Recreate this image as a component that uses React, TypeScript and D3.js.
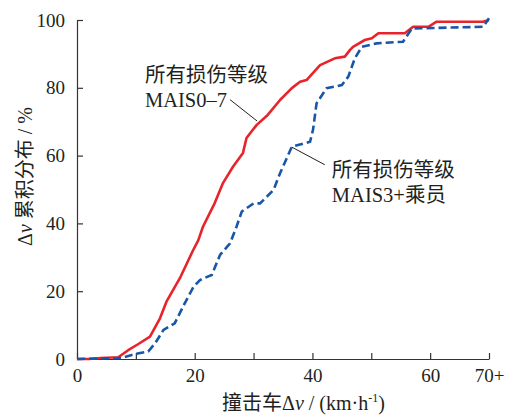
import React, { useEffect, useRef } from 'react';
import * as d3 from 'd3';

// red: 所有损伤等级 MAIS0-7
const allX = [0, 2, 4, 7, 8.7, 10.5, 12.4, 14.1, 15.2, 17.5, 19.7, 20.6, 21.4, 23.4, 24.8, 26.5, 28.2, 28.8, 30.5, 32.4, 34.5, 36.5, 37.9, 39, 41.3, 43.8, 45.5, 46.4, 46.9, 48.9, 50.1, 51.2, 55.7, 57.1, 59.7, 61.1, 69, 70];
const allY = [0, 0, 0.3, 0.5, 2.6, 4.5, 6.6, 12, 16.9, 23.9, 32, 35, 39, 46, 51.9, 56.7, 60.8, 65.2, 69, 72, 76.4, 79.9, 81.8, 82.3, 86.7, 88.7, 89.2, 91.2, 92.1, 94.1, 94.6, 96.1, 96.1, 98, 98, 99.5, 99.5, 100];

// blue dashed: MAIS3+ occupants
const severeX = [0, 7.6, 9.9, 12.1, 13.3, 14.7, 15.8, 16.6, 18.3, 19.8, 20.9, 22.9, 24.3, 26, 27.1, 28, 30, 31.1, 33.4, 34.5, 36.5, 39.6, 40.1, 40.7, 42.4, 45, 46.1, 47.2, 48.4, 50.9, 55.4, 56.9, 69, 70];
const severeY = [0, 0.3, 1.5, 2.2, 4.7, 8.6, 9.7, 10.5, 16.4, 21.3, 23.3, 24.8, 30.7, 34.1, 39, 43.5, 45.9, 45.9, 49.9, 54.8, 62.6, 64.1, 67.6, 75.4, 79.9, 80.8, 83.3, 88.7, 92.1, 93.1, 93.6, 97.5, 98, 100.5];

const xTicks = [0, 10, 20, 30, 40, 50, 60, 70];
const yTicks = [0, 20, 40, 60, 80, 100];

const SERIF = '"Liberation Serif", "Noto Sans CJK SC", serif';

const App: React.FC = () => {
  const svgRef = useRef<SVGSVGElement>(null);

  useEffect(() => {
    if (!svgRef.current) return;
    const svg = d3.select(svgRef.current);
    svg.selectAll('*').remove();

    const width = 513;
    const height = 417;
    const margin = { top: 20, right: 24, bottom: 58, left: 77 };

    const x = d3.scaleLinear().domain([0, 70]).range([margin.left, width - margin.right]);
    const y = d3.scaleLinear().domain([0, 100]).range([height - margin.bottom, margin.top]);

    // axes, ticks pointing inward
    const xAxis = svg.append('g')
      .attr('transform', `translate(0,${y(0)})`)
      .call(
        d3.axisBottom(x)
          .tickValues(xTicks)
          .tickSizeInner(-6)
          .tickSizeOuter(0)
          .tickPadding(10)
          .tickFormat(d => (d === 70 ? '70+' : (d as number) % 20 === 0 ? String(d) : ''))
      );
    xAxis.selectAll('text').attr('font-size', 19).attr('font-family', SERIF).attr('fill', '#231f20');

    const yAxis = svg.append('g')
      .attr('transform', `translate(${x(0)},0)`)
      .call(
        d3.axisLeft(y)
          .tickValues(yTicks)
          .tickSizeInner(-6)
          .tickSizeOuter(0)
          .tickPadding(12)
      );
    yAxis.selectAll('text').attr('font-size', 19).attr('font-family', SERIF).attr('fill', '#231f20');

    svg.selectAll('.domain, .tick line').attr('stroke', '#333').attr('stroke-width', 1.2);

    const line = d3.line<[number, number]>()
      .x(d => x(d[0]))
      .y(d => y(d[1]));

    const allPts = allX.map((v, i) => [v, allY[i]] as [number, number]);
    const severePts = severeX.map((v, i) => [v, severeY[i]] as [number, number]);

    svg.append('path')
      .datum(allPts)
      .attr('fill', 'none')
      .attr('stroke', '#e8242b')
      .attr('stroke-width', 2.6)
      .attr('stroke-linejoin', 'round')
      .attr('d', line);

    svg.append('path')
      .datum(severePts)
      .attr('fill', 'none')
      .attr('stroke', '#1a56a8')
      .attr('stroke-width', 2.6)
      .attr('stroke-dasharray', '8 4')
      .attr('d', line);

    // leader lines
    svg.append('line')
      .attr('x1', x(26.0)).attr('y1', y(76.5))
      .attr('x2', x(30.6)).attr('y2', y(70.2))
      .attr('stroke', '#231f20').attr('stroke-width', 1);
    svg.append('line')
      .attr('x1', x(36.5)).attr('y1', y(62.5))
      .attr('x2', x(42.1)).attr('y2', y(57.3))
      .attr('stroke', '#231f20').attr('stroke-width', 1);

    // annotations
    const note = (px: number, py: number, lines: string[]) => {
      lines.forEach((s, i) => {
        svg.append('text')
          .attr('x', x(px))
          .attr('y', y(py) + i * 25)
          .attr('font-family', SERIF)
          .attr('font-size', 20.5)
          .attr('fill', '#231f20')
          .text(s);
      });
    };
    note(11.55, 81.7, ['所有损伤等级', 'MAIS0–7']);
    note(43.3, 53.7, ['所有损伤等级', 'MAIS3+乘员']);

    // x axis title
    const xt = svg.append('text')
      .attr('x', 222)
      .attr('y', 410)
      .attr('font-family', SERIF)
      .attr('font-size', 20)
      .attr('fill', '#231f20');
    xt.append('tspan').text('撞击车Δ');
    xt.append('tspan').attr('font-style', 'italic').text('v');
    xt.append('tspan').text(' / (km·h');
    xt.append('tspan').attr('font-size', 12).attr('dy', -8).text('-1');
    xt.append('tspan').attr('dy', 8).text(')');

    // y axis title
    const yt = svg.append('text')
      .attr('transform', `translate(32,${(y(0) + y(100)) / 2 - 13}) rotate(-90)`)
      .attr('text-anchor', 'middle')
      .attr('font-family', SERIF)
      .attr('font-size', 20)
      .attr('fill', '#231f20');
    yt.append('tspan').text('Δ');
    yt.append('tspan').attr('font-style', 'italic').text('v');
    yt.append('tspan').text(' 累积分布 / %');
  }, []);

  return (
    <svg
      ref={svgRef}
      width={513}
      height={417}
      style={{ position: 'absolute', left: 0, top: 0, background: '#fff' }}
    />
  );
};

export default App;
